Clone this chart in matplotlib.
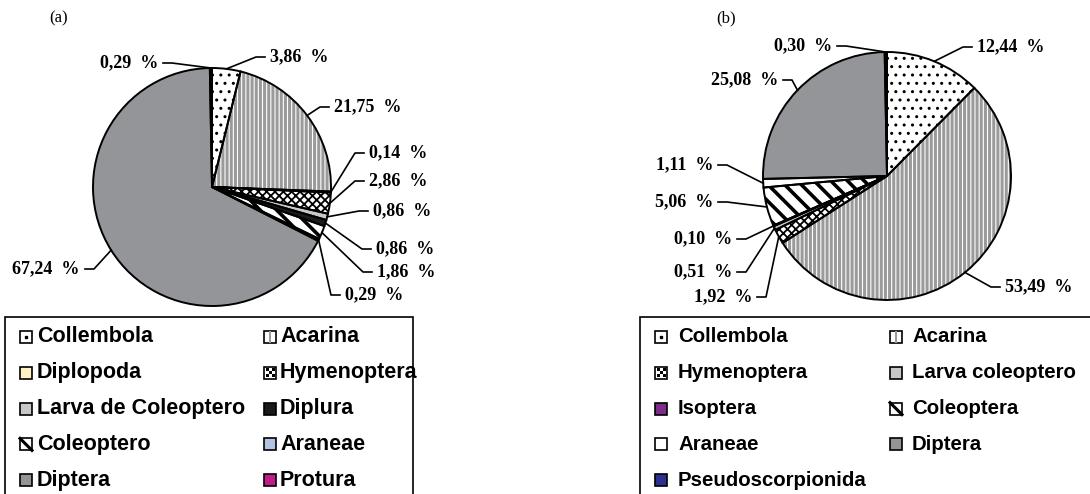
import numpy as np
import matplotlib
matplotlib.use("Agg")
import matplotlib.pyplot as plt
from matplotlib.patches import Wedge, Rectangle

# data (percent, clockwise from 12 o'clock)
labels_a = ["Collembola", "Acarina", "Diplopoda", "Hymenoptera", "Larva de Coleoptero",
            "Diplura", "Coleoptero", "Araneae", "Diptera", "Protura"]
values_a = [3.86, 21.75, 0.14, 2.86, 0.86, 0.86, 1.86, 0.29, 67.24, 0.29]

labels_b = ["Collembola", "Acarina", "Hymenoptera", "Larva coleoptero", "Isoptera",
            "Coleoptera", "Araneae", "Diptera", "Pseudoscorpionida"]
values_b = [12.44, 53.49, 1.92, 0.51, 0.10, 5.06, 1.11, 25.08, 0.30]

# fill, hatch, hatch colour, hatch width per taxon
styles = {
    "Collembola": ("white", "..", "black", 1.0),
    "Acarina": ("white", "||||", "#9a9a9a", 2.2),
    "Diplopoda": ("#fff3c4", None, None, 0),
    "Hymenoptera": ("white", "xxxx", "black", 1.3),
    "Larva de Coleoptero": ("#c8c8c8", None, None, 0),
    "Larva coleoptero": ("#c8c8c8", None, None, 0),
    "Diplura": ("#1a1a1a", None, None, 0),
    "Coleoptero": ("white", "\\\\", "black", 2.6),
    "Coleoptera": ("white", "\\\\", "black", 2.6),
    "Araneae": ("#b3c3e3", None, None, 0),
    "Diptera": ("#939598", None, None, 0),
    "Protura": ("#c21b8c", None, None, 0),
    "Isoptera": ("#7e2b8b", None, None, 0),
    "Pseudoscorpionida": ("#2e3192", None, None, 0),
}
styles_b = dict(styles)
styles_b["Araneae"] = ("white", None, None, 0)

W, H = 1090, 494
fig = plt.figure(figsize=(W / 100, H / 100), dpi=100)
ax = fig.add_axes([0, 0, 1, 1])

lab_font = dict(family="Liberation Serif", fontweight="bold", fontsize=13)


def pct(v):
    return ("%.2f" % v).replace(".", ",") + "  %"


def hatched(patch, lw):
    if hasattr(patch, "set_hatch_linewidth"):
        patch.set_hatch_linewidth(lw)
    else:
        plt.rcParams["hatch.linewidth"] = lw
    return patch


def draw_pie(vals, names, sty, cx, cy, r, label_pos):
    wedges, _ = ax.pie(vals, startangle=90, counterclock=False,
                       center=(cx, H - cy), radius=r, frame=True,
                       wedgeprops=dict(linewidth=0))
    for w, v, n, (tx, ty, side) in zip(wedges, vals, names, label_pos):
        fc, hatch, hc, hlw = sty[n]
        w.set_facecolor(fc)
        w.set_zorder(1)
        if hatch:
            ax.add_patch(hatched(Wedge(w.center, w.r, w.theta1, w.theta2, facecolor="none",
                                       edgecolor=hc, linewidth=0, hatch=hatch, zorder=2), hlw))
        ax.add_patch(Wedge(w.center, w.r, w.theta1, w.theta2, facecolor="none",
                           edgecolor="black", linewidth=1.4, zorder=3))
        # leader line from the middle of the arc
        mid = np.deg2rad((w.theta1 + w.theta2) / 2)
        px = w.center[0] + w.r * np.cos(mid)
        py = w.center[1] + w.r * np.sin(mid)
        if side == "left":
            xs = [px, tx - 14, tx - 5]
        else:
            xs = [px, tx + 14, tx + 5]
        ax.plot(xs, [py, H - ty, H - ty], color="black", lw=1.2, zorder=4)
        ax.text(tx, H - ty, pct(v), ha=side, va="center", **lab_font)


def marker(x, y, s, fc, hatch, hc):
    ax.add_patch(Rectangle((x, y - s / 2), s, s, facecolor=fc, edgecolor="black",
                           lw=1.2, zorder=5))
    if hatch == "..":
        ax.plot([x + s / 2], [y], "s", ms=1.8, color="black", zorder=6)
    elif hatch == "||||":
        ax.add_patch(Rectangle((x + s * 0.38, y - s / 2), s * 0.24, s, facecolor=hc,
                               lw=0, zorder=6))
    elif hatch == "xxxx":
        for i in range(3):
            for j in range(3):
                if (i + j) % 2 == 0:
                    ax.add_patch(Rectangle((x + 1.5 + i * 3, y - s / 2 + 1.5 + j * 3), 3, 3,
                                           facecolor="black", lw=0, zorder=6))
    elif hatch:
        ax.plot([x, x + s], [y + s / 2, y - s / 2], color="black", lw=2.2, zorder=6)
        ax.fill([x, x + s, x + s], [y + s / 2, y - s / 2, y + s / 2], color="black",
                lw=0, zorder=6, alpha=0)


def draw_legend(names, sty, x0, width, c1, c2, size, y0=337, dy=35.8):
    ax.add_patch(Rectangle((x0, -20), width, H - 317 + 20,
                           facecolor="none", edgecolor="black", lw=1.2, zorder=5))
    for i, n in enumerate(names):
        row, col = divmod(i, 2)
        x, tx = (c1, c2)[col]
        y = H - (y0 + row * dy)
        fc, hatch, hc, _ = sty[n]
        marker(x, y, 12, fc, hatch, hc)
        ax.text(tx, y, n, ha="left", va="center", family="Liberation Sans",
                fontweight="bold", fontsize=size)


pos_a = [(270, 57, "left"), (334, 107, "left"), (369, 153, "left"), (369, 181, "left"),
         (373, 211, "left"), (376, 249, "left"), (377, 272, "left"), (345, 295, "left"),
         (80, 269, "right"), (158, 63, "right")]
pos_b = [(977, 47, "left"), (1005, 287, "left"), (752, 297, "right"), (732, 272, "right"),
         (732, 239, "right"), (713, 202, "right"), (713, 165, "right"), (778, 80, "right"),
         (832, 46, "right")]

draw_pie(values_a, labels_a, styles, 212, 187, 119, pos_a)
draw_pie(values_b, labels_b, styles_b, 887, 176, 124, pos_b)
ax.set_xlim(0, W)
ax.set_ylim(0, H)
ax.set_aspect("auto")
ax.axis("off")

draw_legend(labels_a, styles, 5, 408, (20, 37), (264, 280), 15.5)
draw_legend(labels_b, styles_b, 640, 480, (655, 678), (890, 912), 14.7)

ax.text(59, H - 18, "(a)", ha="center", va="center", family="Liberation Serif", fontsize=12)
ax.text(726, H - 18, "(b)", ha="center", va="center", family="Liberation Serif", fontsize=12)

fig.savefig("out.png", dpi=100)
